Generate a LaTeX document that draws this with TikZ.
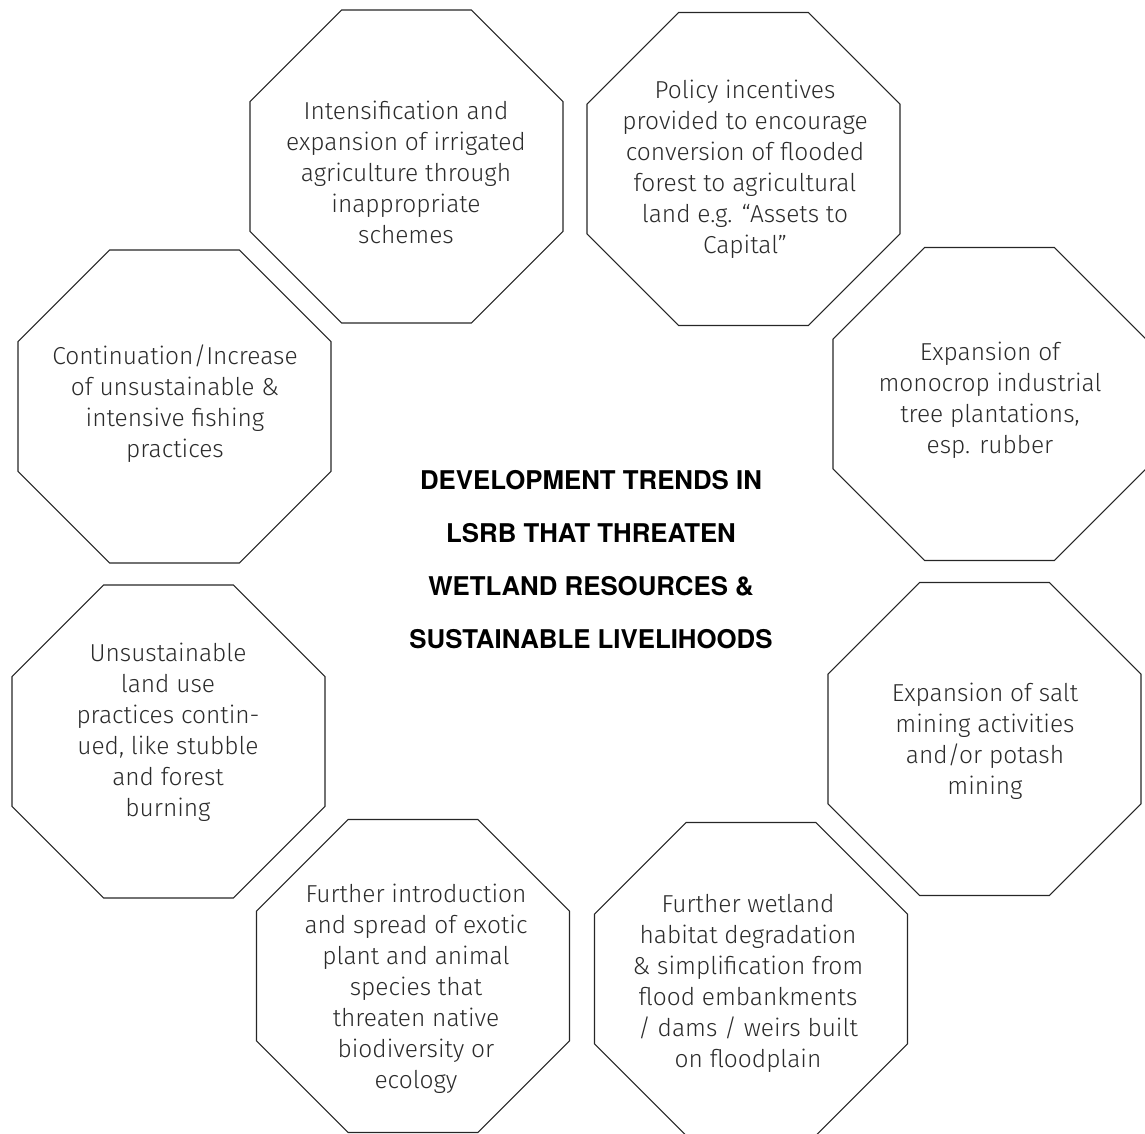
\documentclass[tikz,border=0pt]{standalone}
\usepackage{fontspec}
\usetikzlibrary{shapes.geometric}
\newfontfamily\lightfont{Fira Sans Light}
\newfontfamily\heros{TeX Gyre Heros}
\definecolor{ink}{HTML}{2B2B2B}
\begin{document}
\begin{tikzpicture}[x=1pt,y=-1pt]
\tikzset{
 oct/.style={draw=black!85, line width=1.1pt, regular polygon, regular polygon sides=8, minimum size=338.8pt, inner sep=0pt, outer sep=0pt},
 txt/.style={align=center, text=ink, font=\lightfont\fontsize{24.5}{31}\selectfont, inner sep=0pt},
 ttl/.style={align=center, text=black, font=\heros\bfseries\fontsize{25.8}{53}\selectfont, inner sep=0pt}
}
\useasboundingbox (0,0) rectangle (1145,1133);
\node[oct] (o1) at (406.5,166.5) {};
\node[oct] (o2) at (743.5,169) {};
\node[oct] (o3) at (174.5,406.5) {};
\node[oct] (o4) at (989.5,404) {};
\node[oct] (o5) at (168.5,741.5) {};
\node[oct] (o6) at (984.5,739) {};
\node[oct] (o7) at (413,976) {};
\node[oct] (o8) at (751,979) {};
\node[txt] (t1) at (406,172) {Intensification and\\expansion of irrigated\\agriculture through\\inappropriate\\schemes};
\node[txt] (t2) at (745,169) {Policy incentives\\provided to encourage\\conversion of flooded\\forest to agricultural\\land e.g. “Assets to\\Capital”};
\node[txt] (t3) at (175,404) {Continuation/Increase\\of unsustainable \&\\intensive fishing\\practices};
\node[txt] (t4) at (990,400) {Expansion of\\monocrop industrial\\tree plantations,\\esp. rubber};
\node[txt] (t5) at (168,732) {Unsustainable\\land use\\practices contin-\\ued, like stubble\\and forest\\burning};
\node[txt] (t6) at (985,741) {Expansion of salt\\mining activities\\and/or potash\\mining};
\node[txt] (t7) at (416,989) {Further introduction\\and spread of exotic\\plant and animal\\species that\\threaten native\\biodiversity or\\ecology};
\node[txt] (t8) at (748,983) {Further wetland\\habitat degradation\\\& simplification from\\flood embankments\\/ dams / weirs built\\on floodplain};
\node[ttl] (c) at (591,560) {DEVELOPMENT TRENDS IN\\LSRB THAT THREATEN\\WETLAND RESOURCES \&\\SUSTAINABLE LIVELIHOODS};
\end{tikzpicture}
\end{document}
